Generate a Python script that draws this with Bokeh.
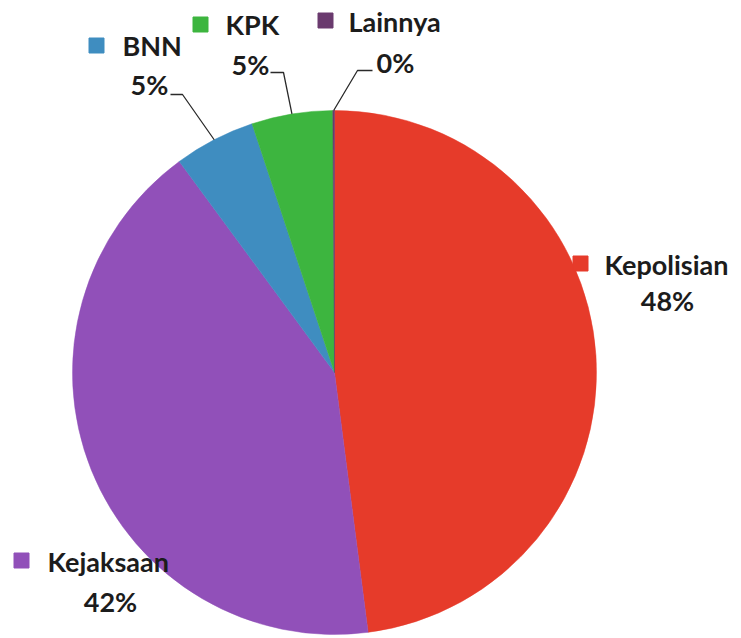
import math
from bokeh.plotting import figure
from bokeh.models import Range1d
from bokeh.core.properties import value
from bokeh.embed import file_html
from bokeh.resources import INLINE

# ---- data ----
categories = ["Kepolisian", "Kejaksaan", "BNN", "KPK", "Lainnya"]
shares = [48, 42, 5, 5, 0.1]
pct_labels = ["48%", "42%", "5%", "5%", "0%"]
colors = ["#E63B2A", "#9150B9", "#3F8DC0", "#3DB53F", "#6A3A6E"]

W, H = 741, 638
def Y(py):
    return H - py

p = figure(width=W, height=H, x_range=Range1d(0, W), y_range=Range1d(0, H),
           output_backend="svg", toolbar_location=None, min_border=0)
p.axis.visible = False
p.grid.visible = False
p.outline_line_color = None
p.background_fill_color = "white"
p.border_fill_color = "white"

cx, cy, r = 334, Y(372), 262
total = sum(shares)
starts, ends, mids = [], [], []
acc = 0.0
for s in shares:
    a0 = math.pi / 2 - 2 * math.pi * acc / total
    acc += s
    a1 = math.pi / 2 - 2 * math.pi * acc / total
    starts.append(a0)
    ends.append(a1)
    mids.append((a0 + a1) / 2)

p.wedge(x=[cx] * len(shares), y=[cy] * len(shares), radius=r,
        start_angle=ends, end_angle=starts, fill_color=colors,
        line_color=colors, line_width=0.5)

font = value("Lato")
tc = "#1c1c1c"
fs = "27px"

# label layout: (square x, square y, name x, name y, pct cx, pct cy)
layout = {
    "Kepolisian": (580, 263, 604, 264, 667, 300),
    "Kejaksaan": (21, 560, 47, 561, 110, 601),
    "BNN": (96, 45, 122, 45, 149, 84),
    "KPK": (200, 24, 225, 24, 250, 64),
    "Lainnya": (325, 20, 348, 21, 395, 62),
}
for i, c in enumerate(categories):
    sx, sy, nx, ny, px_, py_ = layout[c]
    p.rect(x=[sx], y=[Y(sy)], width=15, height=15, fill_color=colors[i],
           line_color=colors[i])
    p.text(x=[nx], y=[Y(ny)], text=[c], text_font=font, text_font_size=fs,
           text_font_style="bold", text_color=tc, text_baseline="middle",
           text_align="left")
    p.text(x=[px_], y=[Y(py_)], text=[pct_labels[i]], text_font=font,
           text_font_size=fs, text_font_style="bold", text_color=tc,
           text_baseline="middle", text_align="center")

# leader lines for small slices: (start x, y, knee x, y)
leaders = {
    "BNN": (170, 94, 182, 94),
    "KPK": (270, 72, 283, 72),
    "Lainnya": (372, 70, 357, 70),
}
for c, (x0, y0, x1, y1) in leaders.items():
    i = categories.index(c)
    ex = cx + r * math.cos(mids[i])
    ey = cy + r * math.sin(mids[i])
    p.line(x=[x0, x1, ex], y=[Y(y0), Y(y1), ey], line_color="#2a2a2a",
           line_width=1.3)

open("out.html", "w").write(file_html(p, INLINE))
